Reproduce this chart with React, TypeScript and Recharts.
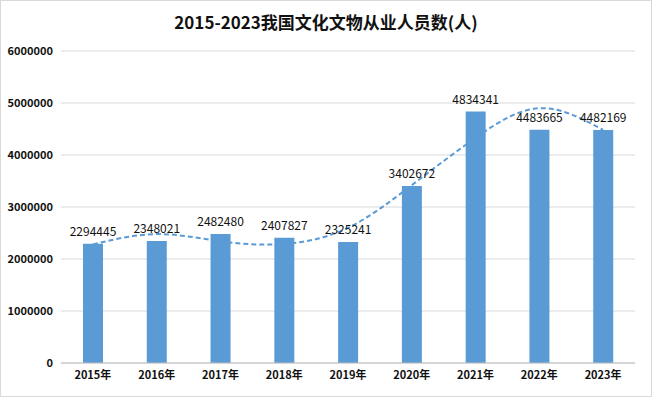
import {
  Bar,
  CartesianGrid,
  ComposedChart,
  LabelList,
  Line,
  XAxis,
  YAxis,
} from "recharts";

const years = ["2015年", "2016年", "2017年", "2018年", "2019年", "2020年", "2021年", "2022年", "2023年"];
const workers = [2294445, 2348021, 2482480, 2407827, 2325241, 3402672, 4834341, 4483665, 4482169];
// dashed trend curve at each year
const trend = [2280000, 2480000, 2340000, 2290000, 2600000, 3420000, 4330000, 4900000, 4482169];
const yTicks = [0, 1000000, 2000000, 3000000, 4000000, 5000000, 6000000];

const data = years.map((year, i) => ({
  year,
  workers: workers[i],
  trend: trend[i],
}));

const font = "'Noto Sans CJK SC', 'Noto Sans', sans-serif";

export default function App() {
  return (
    <div
      style={{
        position: "fixed",
        left: 0,
        top: 0,
        width: 652,
        height: 397,
        boxSizing: "border-box",
        border: "1px solid #d9d9d9",
        background: "#fff",
        fontFamily: font,
      }}
    >
      <div
        style={{
          position: "absolute",
          top: 8,
          left: 0,
          width: "100%",
          textAlign: "center",
          fontSize: 17,
          fontWeight: 700,
          color: "#111",
        }}
      >
        2015-2023我国文化文物从业人员数(人)
      </div>
      <ComposedChart
        width={650}
        height={395}
        data={data}
        margin={{ top: 50, right: 16, left: 0, bottom: 0 }}
      >
        <CartesianGrid vertical={false} stroke="#d9d9d9" />
        <XAxis
          dataKey="year"
          height={33}
          tickLine={false}
          axisLine={{ stroke: "#bfbfbf" }}
          tick={{ fontSize: 11, fill: "#111", fontWeight: 700, fontFamily: font }}
        />
        <YAxis
          width={60}
          domain={[0, 6000000]}
          ticks={yTicks}
          interval={0}
          axisLine={false}
          tickLine={false}
          tick={{ fontSize: 11, fill: "#111", fontWeight: 700, fontFamily: font }}
        />
        <Bar dataKey="workers" fill="#5b9bd5" barSize={20} isAnimationActive={false}>
          <LabelList
            dataKey="workers"
            position="top"
            offset={8}
            style={{ fontSize: 12, fill: "#111", fontFamily: font }}
          />
        </Bar>
        <Line
          type="natural"
          dataKey="trend"
          stroke="#5b9bd5"
          strokeWidth={2}
          strokeDasharray="5 3"
          dot={false}
          activeDot={false}
          isAnimationActive={false}
        />
      </ComposedChart>
    </div>
  );
}
